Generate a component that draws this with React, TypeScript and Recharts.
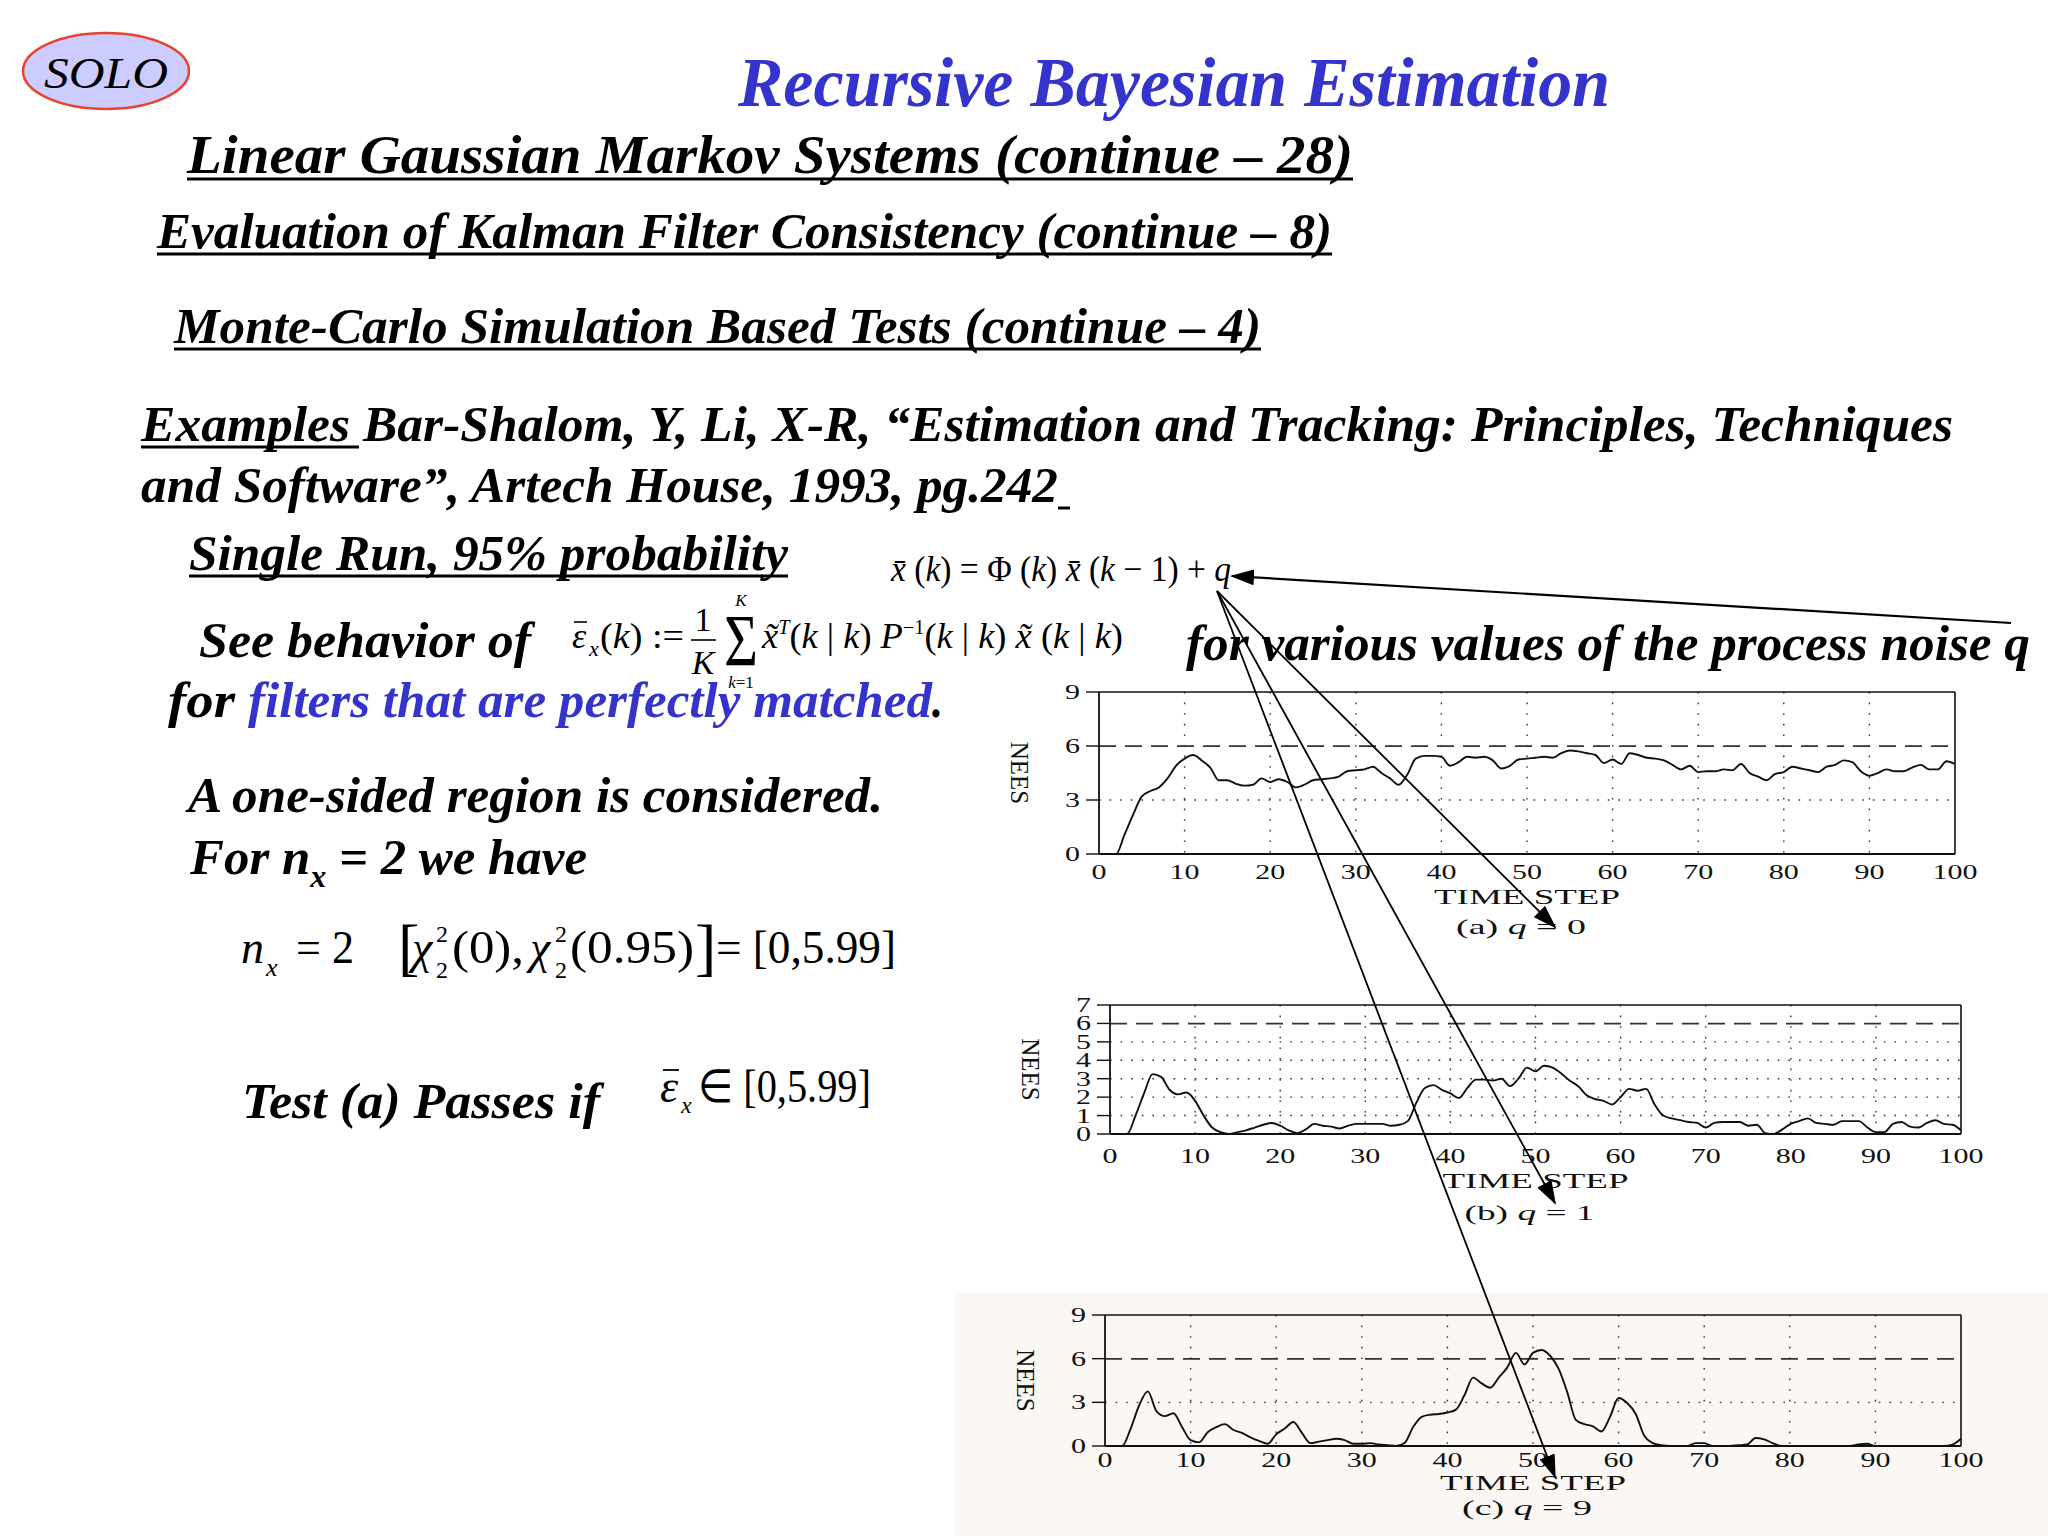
import React from 'react';
import { LineChart, Line, XAxis, YAxis, CartesianGrid, ReferenceLine } from 'recharts';

// NEES of a single run (time step 0..100)
const neesQ0 = [
  0, 0, 0, 1.1, 2.2, 3.2, 3.5, 3.7, 4.2, 4.9,
  5.3, 5.5, 5.2, 4.8, 4.1, 4.1, 3.9, 3.8, 3.85, 4.2,
  4.0, 4.15, 4.0, 3.7, 3.85, 4.1, 4.15, 4.2, 4.3, 4.6,
  4.65, 4.7, 4.85, 4.5, 4.2, 3.85, 4.4, 5.3, 5.45, 5.45,
  5.4, 4.9, 5.1, 5.4, 5.35, 5.4, 5.2, 4.75, 4.9, 5.25,
  5.3, 5.35, 5.4, 5.35, 5.6, 5.75, 5.7, 5.6, 5.5, 5.05,
  5.25, 5.0, 5.6, 5.5, 5.35, 5.3, 5.2, 4.95, 4.7, 4.9,
  4.55, 4.6, 4.6, 4.7, 4.65, 5.0, 4.5, 4.3, 4.1, 4.45,
  4.55, 4.85, 4.75, 4.65, 4.55, 4.85, 4.95, 5.2, 5.1, 4.6,
  4.35, 4.5, 4.7, 4.6, 4.6, 4.8, 4.95, 4.7, 4.7, 5.15,
  5.0,
];

const neesQ1 = [
  0, 0, 0, 1.0, 2.2, 3.25, 3.1, 2.4, 2.15, 2.25,
  1.8, 1.0, 0.35, 0.1, 0.0, 0.1, 0.2, 0.35, 0.5, 0.6,
  0.45, 0.2, 0.05, 0.25, 0.55, 0.45, 0.4, 0.3, 0.45, 0.55,
  0.55, 0.55, 0.55, 0.45, 0.5, 0.7, 1.7, 2.5, 2.65, 2.4,
  2.2, 1.95, 2.5, 2.95, 2.95, 2.9, 3.0, 2.6, 3.0, 3.6,
  3.4, 3.7, 3.6, 3.3, 2.9, 2.6, 2.1, 1.9, 1.8, 1.6,
  2.0, 2.45, 2.35, 2.45, 1.6, 1.0, 0.85, 0.75, 0.65, 0.6,
  0.35, 0.6, 0.65, 0.65, 0.65, 0.45, 0.5, 0.05, 0.0, 0.25,
  0.55, 0.7, 0.85, 0.6, 0.55, 0.5, 0.7, 0.7, 0.7, 0.35,
  0.1, 0.1, 0.55, 0.65, 0.4, 0.35, 0.6, 0.75, 0.55, 0.5,
  0.2,
];

const neesQ9 = [
  0, 0, 0, 1.2, 2.8, 3.75, 2.4, 2.05, 2.25, 1.3,
  0.4, 0.25, 0.95, 1.3, 1.5, 1.1, 0.9, 0.6, 0.35, 0.15,
  0.8, 1.2, 1.65, 0.9, 0.2, 0.3, 0.4, 0.5, 0.4, 0.15,
  0.15, 0.2, 0.1, 0.05, 0.0, 0.2, 1.3, 2.0, 2.15, 2.2,
  2.3, 2.5, 3.5, 4.7, 4.3, 4.0, 4.7, 5.4, 6.4, 5.6,
  6.4, 6.6, 6.2, 5.3, 3.7, 1.8, 1.5, 1.35, 1.0, 2.0,
  3.3, 2.95, 2.2, 0.7, 0.2, 0.05, 0, 0, 0, 0.2,
  0.2, 0, 0, 0, 0.05, 0.1, 0.55, 0.45, 0.2, 0,
  0, 0, 0, 0, 0, 0, 0, 0, 0.1, 0.15,
  0, 0, 0, 0, 0, 0, 0, 0, 0, 0.1,
  0.5,
];

const timeTicks = [0, 10, 20, 30, 40, 50, 60, 70, 80, 90, 100];
const innerTimeLines = [10, 20, 30, 40, 50, 60, 70, 80, 90];
const ticksQ0 = [0, 3, 6, 9];
const ticksQ1 = [0, 1, 2, 3, 4, 5, 6, 7];
const ticksQ9 = [0, 3, 6, 9];
const chiSquareUpper = 5.99;

const serif = '"Liberation Serif", "Times New Roman", serif';
const plotFont = '"Liberation Serif", serif';
const blue = '#3434cc';

const XTick = (props: any) => {
  const { x, y, payload } = props;
  const s = String(payload.value);
  return (
    <text x={x} y={y} dy="0.72em" textAnchor="middle" fontFamily={plotFont} fontSize={20} fill="#111"
      textLength={s.length * 15} lengthAdjust="spacingAndGlyphs">{s}</text>
  );
};

const YTick = (props: any) => {
  const { x, y, payload } = props;
  const s = String(payload.value);
  return (
    <text x={x} y={y} dy={7} textAnchor="end" fontFamily={plotFont} fontSize={20} fill="#111"
      textLength={s.length * 15} lengthAdjust="spacingAndGlyphs">{s}</text>
  );
};

interface PanelProps {
  values: number[];
  yMax: number;
  yTicks: number[];
  gridY: number[];
  tag: string;
  q: number;
  left: number;
  top: number;
  plotW: number;
  plotH: number;
  tickGap: number;
  titleGap: number;
  captionGap: number;
}

const NeesPanel: React.FC<PanelProps> = ({ values, yMax, yTicks, gridY, tag, q, left, top, plotW, plotH, tickGap, titleGap, captionGap }) => {
  const data = values.map((v, i) => ({ step: i, nees: v }));
  const axisW = 110;
  const axisH = 110;

  const timeLabel = (p: any) => {
    const vb = p.viewBox || { x: axisW, y: 20 + plotH, width: plotW };
    const cx = vb.x + vb.width / 2;
    return (
      <g fontFamily={plotFont} fill="#111">
        <text x={cx} y={vb.y + titleGap} textAnchor="middle" fontSize={21} textLength={186} lengthAdjust="spacingAndGlyphs">TIME STEP</text>
        <text x={cx - 6} y={vb.y + captionGap} textAnchor="middle" fontSize={21} textLength={130} lengthAdjust="spacingAndGlyphs">
          ({tag}) <tspan fontStyle="italic">q</tspan> = {q}
        </text>
      </g>
    );
  };

  const neesLabel = (p: any) => {
    const vb = p.viewBox || { x: 0, y: 20, width: axisW, height: plotH };
    const cx = vb.x + vb.width - 80;
    const cy = vb.y + vb.height / 2;
    return (
      <text x={cx} y={cy} transform={`rotate(90 ${cx} ${cy})`} textAnchor="middle" dominantBaseline="central"
        fontFamily={plotFont} fontSize={25} fill="#111">NEES</text>
    );
  };

  return (
    <div style={{ position: 'absolute', left: left - axisW, top: top - 20 }}>
      <LineChart width={plotW + axisW + 40} height={plotH + 20 + axisH} data={data}
        margin={{ top: 20, right: 40, left: 0, bottom: 0 }}>
        <CartesianGrid stroke="#333" strokeDasharray="1.6 9" strokeWidth={1.4}
          horizontalValues={gridY} verticalValues={innerTimeLines} />
        <XAxis dataKey="step" type="number" domain={[0, 100]} ticks={timeTicks} interval={0}
          height={axisH} tickLine={false} tickSize={0} tickMargin={tickGap} tick={<XTick />}
          axisLine={{ stroke: '#111', strokeWidth: 1.8 }} label={{ content: timeLabel }} />
        <YAxis type="number" domain={[0, yMax]} ticks={yTicks} interval={0} width={axisW}
          tickSize={13} tickMargin={6} tick={<YTick />} tickLine={{ stroke: '#111', strokeWidth: 1.4 }}
          axisLine={{ stroke: '#111', strokeWidth: 1.8 }} label={{ content: neesLabel }} />
        <ReferenceLine y={yMax} stroke="#111" strokeWidth={1.6} />
        <ReferenceLine x={100} stroke="#111" strokeWidth={1.6} />
        <ReferenceLine y={chiSquareUpper} stroke="#333" strokeWidth={1.8} strokeDasharray="17 9" />
        <Line type="monotone" dataKey="nees" stroke="#111" strokeWidth={1.9} dot={false} isAnimationActive={false} />
      </LineChart>
    </div>
  );
};

interface TProps {
  x: number;
  y: number;
  w: number;
  size?: number;
  fill?: string;
  bold?: boolean;
  italic?: boolean;
  underline?: number[];
  children: React.ReactNode;
}

const T: React.FC<TProps> = ({ x, y, w, size = 50, fill = '#000', bold = true, italic = true, underline, children }) => (
  <g>
    <text x={x} y={y} fontFamily={serif} fontSize={size} fill={fill} fontWeight={bold ? 700 : 400}
      fontStyle={italic ? 'italic' : 'normal'} textLength={w} lengthAdjust="spacingAndGlyphs">{children}</text>
    {underline && <line x1={underline[0]} x2={underline[1]} y1={y + 6} y2={y + 6} stroke={fill} strokeWidth={3} />}
  </g>
);

const Slide: React.FC = () => (
  <svg width={2048} height={1536} style={{ position: 'absolute', left: 0, top: 0, pointerEvents: 'none' }}>
    <defs>
      <marker id="head" markerUnits="userSpaceOnUse" markerWidth={24} markerHeight={16} refX={22} refY={8} orient="auto">
        <path d="M0,0 L24,8 L0,16 z" fill="#000" />
      </marker>
    </defs>

    <ellipse cx={106} cy={71} rx={83} ry={38} fill="#ccccff" stroke="#e8432b" strokeWidth={2.5} />
    <text x={106} y={88} textAnchor="middle" fontFamily={serif} fontSize={44} fontStyle="italic" textLength={124}
      lengthAdjust="spacingAndGlyphs">SOLO</text>

    <T x={738} y={106} w={872} size={70} fill={blue}>Recursive Bayesian Estimation</T>
    <T x={187} y={173} w={1166} size={55} underline={[187, 1353]}>Linear Gaussian Markov Systems (continue – 28)</T>
    <T x={157} y={248} w={1175} size={51} underline={[157, 1332]}>Evaluation of Kalman Filter Consistency (continue – 8)</T>
    <T x={174} y={343} w={1087} size={51} underline={[174, 1261]}>Monte-Carlo Simulation Based Tests (continue – 4)</T>

    <T x={141} y={441} w={1812} size={51} underline={[141, 359]}>Examples Bar-Shalom, Y, Li, X-R, “Estimation and Tracking: Principles, Techniques</T>
    <T x={141} y={502} w={917} size={51} underline={[1058, 1070]}>and Software”, Artech House, 1993, pg.242</T>

    <T x={189} y={570} w={599} size={51} underline={[189, 788]}>Single Run, 95% probability</T>

    {/* state equation */}
    <text x={891} y={581} fontFamily={serif} fontSize={36} textLength={340} lengthAdjust="spacingAndGlyphs">
      <tspan fontStyle="italic">x̄</tspan> (<tspan fontStyle="italic">k</tspan>) = Φ (<tspan fontStyle="italic">k</tspan>) <tspan fontStyle="italic">x̄</tspan> (<tspan fontStyle="italic">k</tspan> − 1) + <tspan fontStyle="italic">q</tspan>
    </text>

    <T x={199} y={657} w={332} size={51}>See behavior of</T>

    {/* NEES definition */}
    <text x={572} y={648} fontFamily={serif} fontSize={36} fontStyle="italic">ε</text>
    <line x1={574} x2={587} y1={622} y2={622} stroke="#000" strokeWidth={1.6} />
    <text x={589} y={656} fontFamily={serif} fontSize={22} fontStyle="italic">x</text>
    <text x={600} y={648} fontFamily={serif} fontSize={36} textLength={84} lengthAdjust="spacingAndGlyphs">
      (<tspan fontStyle="italic">k</tspan>) :=
    </text>
    <text x={703} y={631} textAnchor="middle" fontFamily={serif} fontSize={34}>1</text>
    <line x1={691} x2={716} y1={640} y2={640} stroke="#000" strokeWidth={1.6} />
    <text x={703} y={674} textAnchor="middle" fontFamily={serif} fontSize={34} fontStyle="italic">K</text>
    <text x={724} y={666} fontFamily={serif} fontSize={74} textLength={34} lengthAdjust="spacingAndGlyphs">Σ</text>
    <text x={741} y={606} textAnchor="middle" fontFamily={serif} fontSize={17} fontStyle="italic">K</text>
    <text x={741} y={688} textAnchor="middle" fontFamily={serif} fontSize={17}><tspan fontStyle="italic">k</tspan>=1</text>
    <text x={762} y={648} fontFamily={serif} fontSize={36} textLength={361} lengthAdjust="spacingAndGlyphs">
      <tspan fontStyle="italic">x̃</tspan><tspan fontSize={20} dy={-14} fontStyle="italic">T</tspan><tspan dy={14}>(</tspan><tspan fontStyle="italic">k</tspan> | <tspan fontStyle="italic">k</tspan>) <tspan fontStyle="italic">P</tspan><tspan fontSize={20} dy={-14}>−1</tspan><tspan dy={14}>(</tspan><tspan fontStyle="italic">k</tspan> | <tspan fontStyle="italic">k</tspan>) <tspan fontStyle="italic">x̃</tspan> (<tspan fontStyle="italic">k</tspan> | <tspan fontStyle="italic">k</tspan>)
    </text>

    <T x={1186} y={660} w={844} size={51}>for various values of the process noise q</T>

    <T x={168} y={717} w={67} size={51}>for</T>
    <T x={248} y={717} w={684} size={51} fill={blue}>filters that are perfectly matched</T>
    <T x={932} y={717} w={11} size={51}>.</T>

    <T x={188} y={812} w={695} size={51}>A one-sided region is considered.</T>
    <text x={190} y={874} fontFamily={serif} fontSize={51} fontWeight={700} fontStyle="italic" textLength={397} lengthAdjust="spacingAndGlyphs">
      For n<tspan fontSize={32} dy={13}>x</tspan><tspan dy={-13}> = 2 we have</tspan>
    </text>

    {/* chi-square interval */}
    <text x={241} y={963} fontFamily={serif} fontSize={46} fontStyle="italic">n</text>
    <text x={266} y={976} fontFamily={serif} fontSize={26} fontStyle="italic">x</text>
    <text x={296} y={963} fontFamily={serif} fontSize={46} textLength={58} lengthAdjust="spacingAndGlyphs">= 2</text>
    <text x={398} y={968} fontFamily={serif} fontSize={64}>[</text>
    <text x={412} y={963} fontFamily={serif} fontSize={46} fontStyle="italic">χ</text>
    <text x={436} y={942} fontFamily={serif} fontSize={24}>2</text>
    <text x={436} y={978} fontFamily={serif} fontSize={24}>2</text>
    <text x={452} y={963} fontFamily={serif} fontSize={46} textLength={72} lengthAdjust="spacingAndGlyphs">(0),</text>
    <text x={530} y={963} fontFamily={serif} fontSize={46} fontStyle="italic">χ</text>
    <text x={555} y={942} fontFamily={serif} fontSize={24}>2</text>
    <text x={555} y={978} fontFamily={serif} fontSize={24}>2</text>
    <text x={570} y={963} fontFamily={serif} fontSize={46} textLength={124} lengthAdjust="spacingAndGlyphs">(0.95)</text>
    <text x={695} y={968} fontFamily={serif} fontSize={64}>]</text>
    <text x={716} y={963} fontFamily={serif} fontSize={46} textLength={180} lengthAdjust="spacingAndGlyphs">= [0,5.99]</text>

    <T x={242} y={1118} w={358} size={51}>Test (a) Passes if</T>
    <text x={660} y={1102} fontFamily={serif} fontSize={46} fontStyle="italic">ε</text>
    <line x1={663} x2={679} y1={1070} y2={1070} stroke="#000" strokeWidth={1.8} />
    <text x={681} y={1113} fontFamily={serif} fontSize={24} fontStyle="italic">x</text>
    <text x={698} y={1102} fontFamily={serif} fontSize={46} textLength={173} lengthAdjust="spacingAndGlyphs">∈ [0,5.99]</text>

    {/* annotation arrows */}
    <line x1={2011} y1={623} x2={1232} y2={576} stroke="#000" strokeWidth={2.2} markerEnd="url(#head)" />
    <line x1={1217} y1={591} x2={1555} y2={927} stroke="#000" strokeWidth={1.8} markerEnd="url(#head)" />
    <line x1={1217} y1={591} x2={1555} y2={1203} stroke="#000" strokeWidth={1.8} markerEnd="url(#head)" />
    <line x1={1217} y1={591} x2={1555} y2={1477} stroke="#000" strokeWidth={1.8} markerEnd="url(#head)" />
  </svg>
);

const App: React.FC = () => (
  <div style={{ position: 'absolute', left: 0, top: 0, width: 2048, height: 1536, background: '#fff', overflow: 'hidden' }}>
    <div style={{ position: 'absolute', left: 955, top: 1293, width: 1093, height: 243, background: '#faf7f5' }} />
    <NeesPanel values={neesQ0} yMax={9} yTicks={ticksQ0} gridY={[3]} tag="a" q={0}
      left={1099} top={692} plotW={856} plotH={162} tickGap={11} titleGap={50} captionGap={80} />
    <NeesPanel values={neesQ1} yMax={7} yTicks={ticksQ1} gridY={[1, 2, 3, 4, 5]} tag="b" q={1}
      left={1110} top={1005} plotW={851} plotH={129} tickGap={15} titleGap={54} captionGap={86} />
    <NeesPanel values={neesQ9} yMax={9} yTicks={ticksQ9} gridY={[3]} tag="c" q={9}
      left={1105} top={1315} plotW={856} plotH={131} tickGap={7} titleGap={44} captionGap={69} />
    <Slide />
  </div>
);

export default App;
